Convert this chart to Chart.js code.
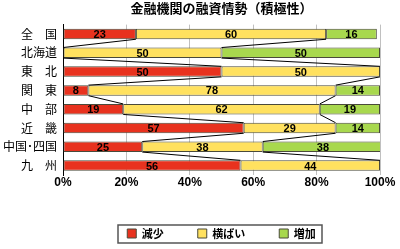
<!DOCTYPE html>
<html>
<head>
<meta charset="utf-8">
<script src="https://cdn.jsdelivr.net/npm/chart.js@4"></script>
<style>
  html, body { margin: 0; padding: 0; background: #fff; }
  #wrap { position: relative; width: 400px; height: 249px; }
</style>
</head>
<body>
<div id="wrap"><canvas id="c"></canvas></div>
<script>
const regions = ['全　国', '北海道', '東　北', '関　東', '中　部', '近　畿', '中国･四国', '九　州'];
const decrease = [23, 0, 50, 8, 19, 57, 25, 56];
const flat     = [60, 50, 50, 78, 62, 29, 38, 44];
const increase = [16, 50, 0, 14, 19, 14, 38, 0];
const seriesNames = ['減少', '横ばい', '増加'];
const xTicks = [0, 20, 40, 60, 80, 100];

const NUM_FONT = "'Liberation Sans', Arial, 'Noto Sans CJK JP', sans-serif";
const JP_FONT = "'Noto Sans CJK JP', sans-serif";

// series lines between neighbouring bars (like Excel), value labels, legend frame
const seriesLines = {
  id: 'seriesLines',
  afterDatasetsDraw(chart) {
    const ctx = chart.ctx;
    const xs = chart.scales.x;
    const metas = [0, 1, 2].map(i => chart.getDatasetMeta(i));
    const sets = chart.data.datasets.map(d => d.data);
    ctx.save();
    ctx.strokeStyle = '#000';
    ctx.lineWidth = 1;
    for (let i = 0; i < regions.length - 1; i++) {
      const a = metas[0].data[i], b = metas[0].data[i + 1];
      const yA = a.y + a.height / 2, yB = b.y - b.height / 2;
      let cA = 0, cB = 0;
      for (let k = 0; k < 2; k++) {
        cA += sets[k][i]; cB += sets[k][i + 1];
        ctx.beginPath();
        ctx.moveTo(xs.getPixelForValue(cA), yA);
        ctx.lineTo(xs.getPixelForValue(cB), yB);
        ctx.stroke();
      }
    }
    ctx.fillStyle = '#000';
    ctx.font = "bold 11px " + NUM_FONT;
    ctx.textAlign = 'center';
    ctx.textBaseline = 'middle';
    metas.forEach((m, d) => {
      m.data.forEach((el, i) => {
        const v = sets[d][i];
        if (!v) return;
        ctx.fillText(v, (el.x + el.base) / 2, el.y + 1);
      });
    });

    // frame round the legend
    const cx = xs.getPixelForValue(50);
    ctx.strokeStyle = '#555';
    ctx.lineWidth = 1.5;
    ctx.strokeRect(cx - 103.5, chart.height - 24, 204, 18);
    ctx.restore();
  }
};

new Chart(document.getElementById('c'), {
  type: 'bar',
  data: {
    labels: regions,
    datasets: [
      { label: seriesNames[0], data: decrease, backgroundColor: '#E8321E' },
      { label: seriesNames[1], data: flat, backgroundColor: '#FFE15F' },
      { label: seriesNames[2], data: increase, backgroundColor: '#A8D84E' }
    ].map(d => Object.assign(d, {
      borderColor: '#4a4a3a', borderWidth: 1, borderSkipped: false,
      barPercentage: 0.56, categoryPercentage: 1
    }))
  },
  options: {
    indexAxis: 'y',
    responsive: true,
    maintainAspectRatio: false,
    animation: false,
    layout: { padding: { left: 0, right: 20, top: 0, bottom: 0 } },
    scales: {
      x: {
        stacked: true, min: 0, max: 100,
        afterBuildTicks: s => { s.ticks = xTicks.map(v => ({ value: v })); },
        afterFit: s => { s.height = 19; },
        ticks: {
          callback: v => v + '%', color: '#000', padding: 0, maxRotation: 0,
          font: { family: NUM_FONT, size: 12, weight: 'bold' }
        },
        grid: { color: '#c0c0c0', drawTicks: false, lineWidth: 1 },
        border: { display: false }
      },
      y: {
        stacked: true,
        afterFit: s => { s.width = 63; },
        ticks: { color: '#000', padding: 6, font: { family: JP_FONT, size: 12 } },
        grid: { display: false, drawTicks: false },
        border: { color: '#000', width: 1 }
      }
    },
    plugins: {
      title: {
        display: true, text: '金融機関の融資情勢（積極性）', color: '#000',
        fullSize: false,
        font: { family: JP_FONT, size: 13, weight: 'bold' },
        padding: { top: 0, bottom: 9 }
      },
      legend: {
        position: 'bottom', fullSize: false,
        labels: {
          boxWidth: 9, boxHeight: 9, padding: 34, color: '#000',
          font: { family: JP_FONT, size: 11, weight: 'bold' }
        }
      },
      tooltip: { enabled: false }
    }
  },
  plugins: [seriesLines]
});
</script>
</body>
</html>
